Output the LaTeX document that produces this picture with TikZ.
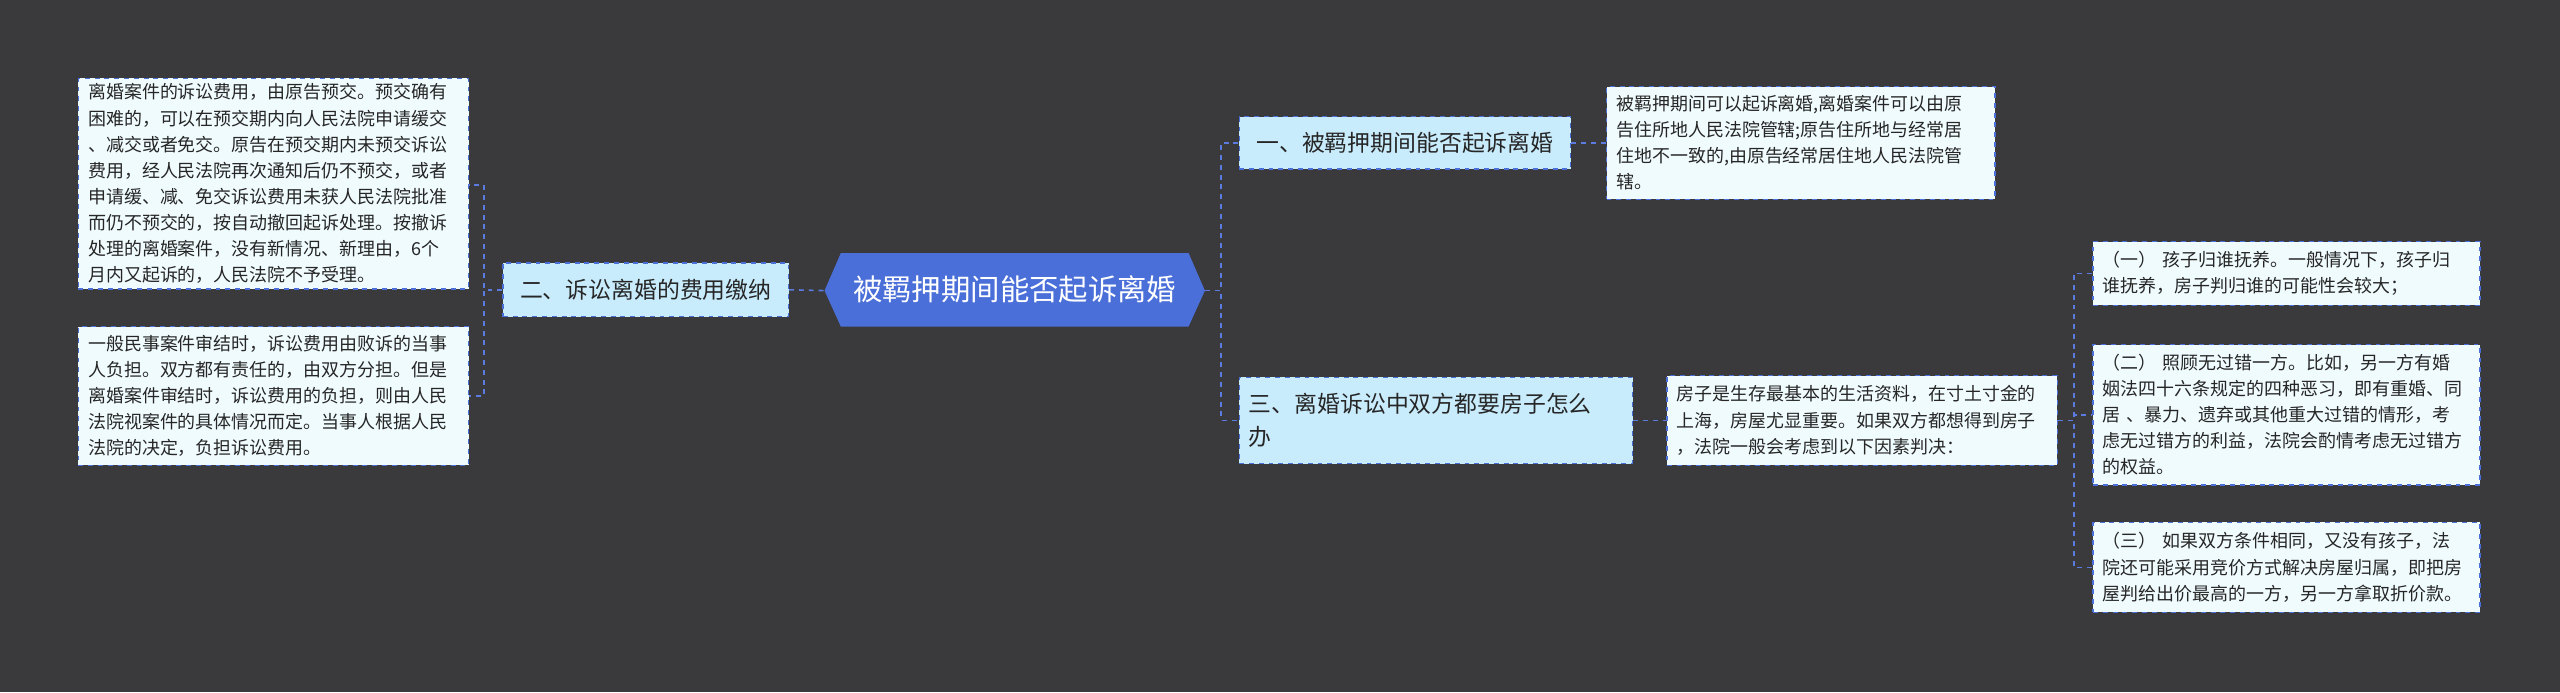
\documentclass[tikz,border=0pt]{standalone}
\usepackage{fontspec}
\setmainfont{Noto Sans CJK SC}
\definecolor{bg}{HTML}{3A393B}
\definecolor{bl}{HTML}{4A6FD8}
\definecolor{ln}{HTML}{5B7BE0}
\definecolor{lf}{HTML}{C9ECFC}
\definecolor{bf}{HTML}{F0FBFE}
\tikzset{
  leaf/.style={draw=bl,dashed,fill=bf,line width=0.8pt,inner xsep=6pt,inner ysep=3pt,align=left,font=\fontsize{11}{16}\selectfont,text=black!85},
  mid/.style={draw=bl,dashed,fill=lf,line width=0.8pt,inner xsep=6pt,align=left,font=\fontsize{14}{20}\selectfont,text=black!85},
  edge/.style={draw=ln,dashed,line width=1pt}
}
\begin{document}
\begin{tikzpicture}[x=1pt,y=1pt]
\fill[bg] (0,0) rectangle (1568,-424);
\useasboundingbox (0,0) rectangle (1568,-424);
% center
\fill[bl] (505,-178) -- (515,-155) -- (728,-155) -- (738,-178) -- (728,-200) -- (515,-200) -- cycle;
\node[text=white,font=\fontsize{18}{22}\selectfont] (c) at (621.5,-177.5) {被羁押期间能否起诉离婚};
\coordinate (cw) at (505,-178);
\coordinate (ce) at (738,-178);
% left
\node[mid,minimum width=175,minimum height=33] (L1) at (395.5,-177.5) {二、诉讼离婚的费用缴纳};
\node[leaf,minimum width=239,minimum height=129,text width=227] (A) at (167.5,-112.5) {离婚案件的诉讼费用，由原告预交。预交确有\\困难的，可以在预交期内向人民法院申请缓交\\、减交或者免交。原告在预交期内未预交诉讼\\费用，经人民法院再次通知后仍不预交，或者\\申请缓、减、免交诉讼费用未获人民法院批准\\而仍不预交的，按自动撤回起诉处理。按撤诉\\处理的离婚案件，没有新情况、新理由，6个\\月内又起诉的，人民法院不予受理。};
\node[leaf,minimum width=239,minimum height=85,text width=227] (B) at (167.5,-242.5) {一般民事案件审结时，诉讼费用由败诉的当事\\人负担。双方都有责任的，由双方分担。但是\\离婚案件审结时，诉讼费用的负担，则由人民\\法院视案件的具体情况而定。当事人根据人民\\法院的决定，负担诉讼费用。};
% right
\node[mid,minimum width=203,minimum height=32] (R1) at (860.5,-87.5) {一、被羁押期间能否起诉离婚};
\node[leaf,minimum width=238,minimum height=69,text width=226] (R1a) at (1103,-87.5) {被羁押期间可以起诉离婚,离婚案件可以由原\\告住所地人民法院管辖;原告住所地与经常居\\住地不一致的,由原告经常居住地人民法院管\\辖。};
\node[mid,minimum width=241,minimum height=53,text width=229] (R3) at (879.5,-257.5) {三、离婚诉讼中双方都要房子怎么\\办};
\node[leaf,minimum width=239,minimum height=55,text width=227] (R3a) at (1140.5,-257.5) {房子是生存最基本的生活资料，在寸土寸金的\\上海，房屋尤显重要。如果双方都想得到房子\\，法院一般会考虑到以下因素判决：};
\node[leaf,minimum width=237,minimum height=39,text width=225] (G1) at (1400.5,-167.5) {（一） 孩子归谁抚养。一般情况下，孩子归\\谁抚养，房子判归谁的可能性会较大；};
\node[leaf,minimum width=237,minimum height=86,text width=225] (G2) at (1400.5,-254) {（二） 照顾无过错一方。比如，另一方有婚\\姻法四十六条规定的四种恶习，即有重婚、同\\居 、暴力、遗弃或其他重大过错的情形，考\\虑无过错方的利益，法院会酌情考虑无过错方\\的权益。};
\node[leaf,minimum width=237,minimum height=55,text width=225] (G3) at (1400.5,-347.5) {（三） 如果双方条件相同，又没有孩子，法\\院还可能采用竞价方式解决房屋归属，即把房\\屋判给出价最高的一方，另一方拿取折价款。};
% edges
\draw[edge] (L1.east) -- (cw);
\draw[edge] (L1.west) -- ++(-11,0) |- ([yshift=-1pt]A.east);
\draw[edge] (L1.west) -- ++(-11,0) |- (B.east);
\draw[edge] (ce) -- ++(10,0) |- (R1.west);
\draw[edge] (ce) -- ++(10,0) |- (R3.west);
\draw[edge] (R1.east) -- (R1a.west);
\draw[edge] (R3.east) -- (R3a.west);
\draw[edge] (R3a.east) -- ++(10,0) |- (G1.west);
\draw[edge] (R3a.east) -- ++(10,0) |- (G2.west);
\draw[edge] (R3a.east) -- ++(10,0) |- (G3.west);
\end{tikzpicture}
\end{document}
